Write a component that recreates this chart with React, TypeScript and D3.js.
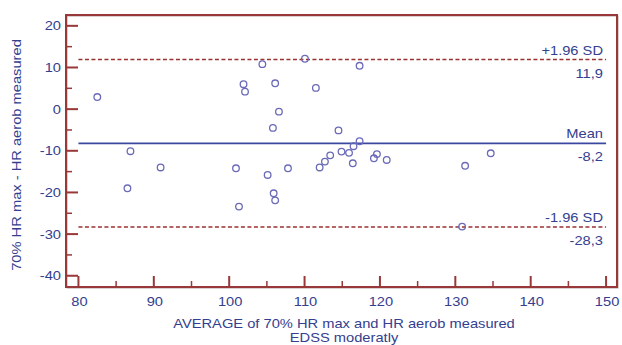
import React from 'react';
import * as d3 from 'd3';

// Bland-Altman data: average (x) vs difference (y)
const avgValues = [
  82.5, 86.9, 90.9, 86.5, 104.4, 110.05, 101.9, 102.1, 106.1, 106.6, 105.8, 100.9,
  105.1, 107.8, 105.9, 106.1, 101.3, 117.3, 111.5, 114.5, 117.3, 116.5, 115.9, 114.9,
  113.4, 112.7, 112.0, 116.4, 119.6, 119.2, 120.9, 134.7, 131.3, 130.9,
];
const diffValues = [
  2.9, -10.1, -14.0, -19.0, 10.8, 12.1, 6.0, 4.2, 6.2, -0.6, -4.5, -14.2,
  -15.8, -14.2, -20.2, -21.9, -23.4, 10.4, 5.1, -5.1, -7.7, -8.9, -10.5, -10.2,
  -11.1, -12.6, -14.0, -13.0, -10.8, -11.8, -12.2, -10.6, -13.6, -28.2,
];

const refLines = [
  { key: 'upper', value: 11.9, top: '+1.96 SD', bottom: '11,9', dashed: true },
  { key: 'mean', value: -8.2, top: 'Mean', bottom: '-8,2', dashed: false },
  { key: 'lower', value: -28.3, top: '-1.96 SD', bottom: '-28,3', dashed: true },
];

const yMajor = [-40, -30, -20, -10, 0, 10, 20];
const yMinor = [-35, -25, -15, -5, 5, 15];
const xMajor = [80, 90, 100, 110, 120, 130, 140, 150];
const xMinor = [85, 95, 105, 115, 125, 135, 145];

const W = 622;
const H = 345;
const left = 66;
const right = 617;
const top = 15;
const bottom = 287;

const axisColor = '#983838';
const textColor = '#34408f';
const pointColor = '#6a6ab8';
const font = 'Liberation Sans, Arial, sans-serif';
const stretch = 1.13; // the original text is a little wider than Arial

function Label({ x, y, anchor = 'start', rotate = 0, children }: any) {
  return (
    <text
      transform={`translate(${x},${y}) rotate(${rotate}) scale(${stretch},1)`}
      textAnchor={anchor}
      fontSize={13}
      fill={textColor}
    >
      {children}
    </text>
  );
}

export default function App() {
  const x = d3.scaleLinear().domain([78.35, 151.45]).range([left, right]);
  const y = d3.scaleLinear().domain([-42.7, 22.6]).range([bottom, top]);

  return (
    <svg
      width={W}
      height={H}
      style={{ position: 'absolute', left: 0, top: 0, background: '#fff' }}
      fontFamily={font}
    >
      {/* frame */}
      <rect x={left} y={top} width={right - left} height={bottom - top} fill="none" stroke="#b8a0a0" strokeWidth={1} transform="translate(1,1)" />
      <rect x={left} y={top} width={right - left} height={bottom - top} fill="none" stroke={axisColor} strokeWidth={2} />

      {/* y ticks */}
      {yMajor.map((v) => (
        <g key={`ym${v}`}>
          <line x1={left} x2={left + 12} y1={y(v)} y2={y(v)} stroke={axisColor} strokeWidth={2} />
          <Label x={61} y={y(v) + 4.5} anchor="end">
            {v}
          </Label>
        </g>
      ))}
      {yMinor.map((v) => (
        <line key={`yn${v}`} x1={left} x2={left + 6} y1={y(v)} y2={y(v)} stroke={axisColor} strokeWidth={1.5} />
      ))}

      {/* x ticks */}
      {xMajor.map((v) => (
        <g key={`xm${v}`}>
          <line x1={x(v)} x2={x(v)} y1={bottom} y2={bottom - 11} stroke={axisColor} strokeWidth={2} />
          <Label x={x(v) + 1} y={306} anchor="middle">
            {v}
          </Label>
        </g>
      ))}
      {xMinor.map((v) => (
        <line key={`xn${v}`} x1={x(v)} x2={x(v)} y1={bottom} y2={bottom - 6} stroke={axisColor} strokeWidth={1.5} />
      ))}

      {/* reference lines */}
      {refLines.map((r) => (
        <g key={r.key}>
          <line
            x1={x(80)}
            x2={x(150)}
            y1={y(r.value)}
            y2={y(r.value)}
            stroke={r.dashed ? '#9a3030' : '#3a48a0'}
            strokeWidth={r.dashed ? 1.6 : 1.8}
            strokeDasharray={r.dashed ? '4,2.5' : undefined}
          />
          <Label x={603} y={y(r.value) - 5} anchor="end">
            {r.top}
          </Label>
          <Label x={603} y={y(r.value) + 18} anchor="end">
            {r.bottom}
          </Label>
        </g>
      ))}

      {/* points */}
      {avgValues.map((a, i) => (
        <circle
          key={i}
          cx={x(a)}
          cy={y(diffValues[i])}
          r={3.3}
          fill="none"
          stroke={pointColor}
          strokeWidth={1.3}
        />
      ))}

      {/* axis titles */}
      <Label x={21} y={(top + bottom) / 2 + 4} anchor="middle" rotate={-90}>
        70% HR max - HR aerob measured
      </Label>
      <Label x={344} y={328} anchor="middle">
        AVERAGE of 70% HR max and HR aerob measured
      </Label>
      <Label x={344} y={342} anchor="middle">
        EDSS moderatly
      </Label>
    </svg>
  );
}
